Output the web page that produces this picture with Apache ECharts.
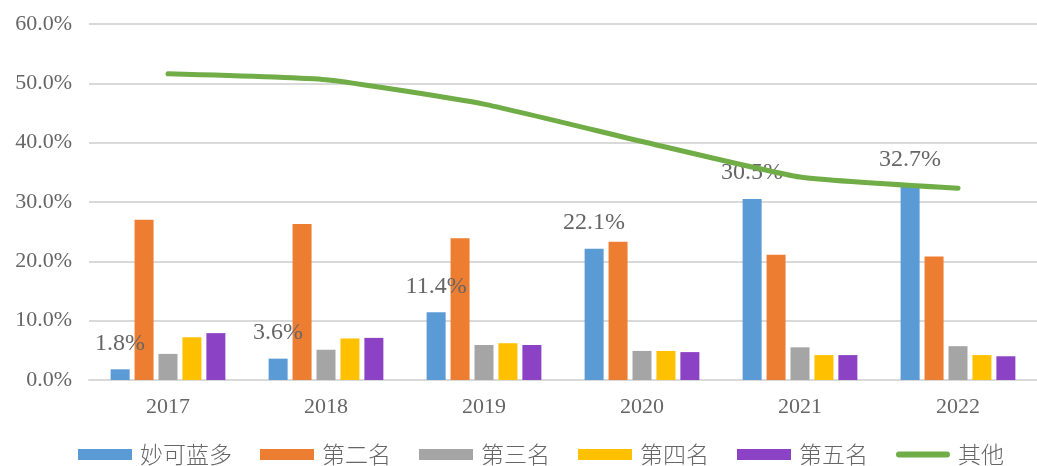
<!DOCTYPE html>
<html>
<head>
<meta charset="utf-8">
<script src="https://cdn.jsdelivr.net/npm/echarts@6/dist/echarts.min.js"></script>
<style>html,body{margin:0;padding:0;background:#fff;}#c{width:1037px;height:466px;}</style>
</head>
<body>
<div id="c"></div>
<script>
const categories = ['2017', '2018', '2019', '2020', '2021', '2022'];
const seriesNames = ['妙可蓝多', '第二名', '第三名', '第四名', '第五名', '其他'];
const miaoke = [1.8, 3.6, 11.4, 22.1, 30.5, 32.7];
const second = [27.0, 26.3, 23.9, 23.3, 21.1, 20.8];
const third = [4.4, 5.1, 5.9, 4.9, 5.5, 5.7];
const fourth = [7.2, 7.0, 6.2, 4.9, 4.2, 4.2];
const fifth = [7.9, 7.1, 5.9, 4.7, 4.2, 4.0];
const others = [51.6, 50.6, 46.5, 40.2, 34.2, 32.3];
const yTicks = { min: 0, max: 60, interval: 10 };

const colors = ['#5B9BD5', '#ED7D31', '#A5A5A5', '#FFC000', '#8C42C4', '#70AD47'];
const txt = '#666666';
const serif = '"Liberation Serif", "DejaVu Serif", serif';

function bar(name, data, color, withLabel) {
  const s = {
    name, type: 'bar', data, barWidth: 19, barGap: '26%',
    itemStyle: { color },
    z: 2
  };
  if (withLabel) {
    s.label = {
      show: true, position: 'top', distance: 14,
      formatter: p => p.value.toFixed(1) + '%',
      color: txt, fontFamily: serif, fontSize: 24
    };
  }
  return s;
}

const legendData = seriesNames.map((n, i) => i === 5
  ? { name: n, icon: 'path://M3,0 L53,0 A3,3 0 0 1 53,6 L3,6 A3,3 0 0 1 3,0 Z', itemStyle: { color: colors[5] } }
  : { name: n, icon: 'rect' });

const chart = echarts.init(document.getElementById('c'), null, { renderer: 'canvas' });
chart.setOption({
  animation: false,
  backgroundColor: '#ffffff',
  grid: { left: 89, top: 24, width: 957, height: 356, containLabel: false },
  legend: {
    left: 78, top: 443, padding: 0,
    itemWidth: 54, itemHeight: 11, itemGap: 28, symbolKeepAspect: true,
    textStyle: { color: txt, fontSize: 23, fontWeight: 300, fontFamily: '"Noto Sans CJK SC", sans-serif', padding: [0, 0, 0, 3] },
    data: legendData
  },
  xAxis: {
    type: 'category', data: categories,
    axisLine: { lineStyle: { color: '#D9D9D9', width: 2 } },
    axisTick: { show: false },
    axisLabel: { color: txt, fontFamily: serif, fontSize: 22, margin: 16 }
  },
  yAxis: {
    type: 'value', min: yTicks.min, max: yTicks.max, interval: yTicks.interval,
    axisLine: { show: false }, axisTick: { show: false },
    splitLine: { lineStyle: { color: '#D9D9D9', width: 2 } },
    axisLabel: { color: txt, fontFamily: serif, fontSize: 22, margin: 17, formatter: v => v.toFixed(1) + '%' }
  },
  series: [
    bar(seriesNames[0], miaoke, colors[0], true),
    bar(seriesNames[1], second, colors[1]),
    bar(seriesNames[2], third, colors[2]),
    bar(seriesNames[3], fourth, colors[3]),
    bar(seriesNames[4], fifth, colors[4]),
    {
      name: seriesNames[5], type: 'line', data: others,
      smooth: 0.15, symbol: 'none', showSymbol: false,
      itemStyle: { color: colors[5] },
      lineStyle: { color: colors[5], width: 5, cap: 'round', join: 'round' },
      z: 3
    }
  ]
});
</script>
</body>
</html>
